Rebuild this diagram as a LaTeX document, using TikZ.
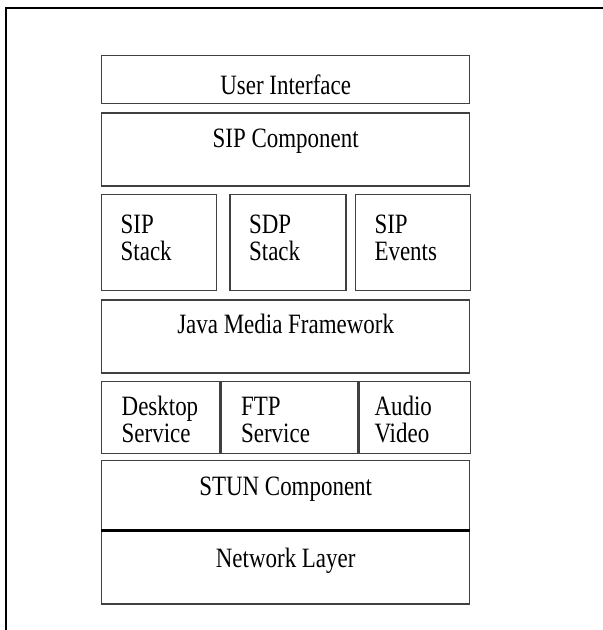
\documentclass[tikz,border=0pt]{standalone}
\usepackage{fontspec}
\setmainfont[FakeStretch=0.82]{Liberation Serif}
\usetikzlibrary{positioning}

\tikzset{
  layer/.style={draw=black!75, line width=1.4pt, inner xsep=0pt, inner ysep=0pt, minimum width=368pt},
  stackbox/.style={draw=black!75, line width=1.4pt, inner xsep=19pt, inner ysep=0pt, text width=77pt, align=left, text height=39pt, text depth=57pt},
  servicebox/.style={draw=black!75, line width=1.4pt, inner xsep=20pt, inner ysep=0pt, align=left, text height=34pt, text depth=38pt},
}

\begin{document}
\begin{tikzpicture}[x=1pt, y=-1pt, font=\fontsize{28}{27}\selectfont]
      \useasboundingbox (0,0) rectangle (603,630);
      % Frame
      \draw[line width=2.2pt] (6,630) -- (6,8) -- (603,8);
      % Define nodes
      \node[layer, text height=39pt, text depth=9pt, anchor=north west] (ui) at (101,55) {User Interface};
      \node[layer, text height=34pt, text depth=39pt, below=8pt of ui] (sipcomp) {SIP Component};
      \node[stackbox, below=7pt of sipcomp.south west, anchor=north west] (sipstack) {SIP\\Stack};
      \node[stackbox, text width=78pt, right=12pt of sipstack] (sdpstack) {SDP\\Stack};
      \node[stackbox, right=8pt of sdpstack] (sipevents) {SIP\\Events};
      \node[layer, text height=34pt, text depth=39pt, below=8pt of sipstack.south west, anchor=north west] (jmf) {Java Media Framework};
      \node[servicebox, text width=78pt, below=7pt of jmf.south west, anchor=north west] (desktop) {Desktop\\Service};
      \node[servicebox, text width=97pt, right=0pt of desktop] (ftp) {FTP\\Service};
      \node[servicebox, inner xsep=15pt, text width=81pt, right=0pt of ftp] (audio) {Audio\\Video};
      \node[layer, text height=35pt, text depth=34pt, below=6pt of desktop.south west, anchor=north west] (stun) {STUN Component};
      \node[layer, text height=36pt, text depth=37pt, below=0pt of stun] (network) {Network Layer};
      % Separator
      \draw[line width=3pt] (stun.south west) -- (stun.south east);
    \end{tikzpicture}
\end{document}
